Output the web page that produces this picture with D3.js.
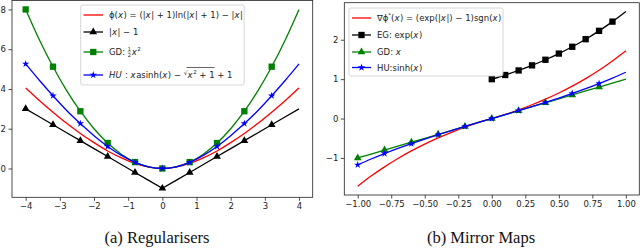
<!DOCTYPE html>
<html>
<head>
<meta charset="utf-8">
<script src="https://cdn.jsdelivr.net/npm/d3@7"></script>
<style>
  html, body { margin: 0; padding: 0; background: #fff; }
  svg { display: block; }
  .tick text { font-family: "DejaVu Sans", sans-serif; font-size: 8.5px; fill: #222; }
  .tick line { stroke: #222; stroke-width: 0.8; }
  .leg text { font-family: "DejaVu Sans", sans-serif; font-size: 8.5px; fill: #222; white-space: pre; }
  .cap { font-family: "Liberation Serif", "Times New Roman", serif; font-size: 16.5px; fill: #111; }
</style>
</head>
<body>
<svg width="640" height="249"></svg>
<script>
'use strict';
// ---- left panel data: regularisers, x from -4 to 4 by 0.4 ----
var xsL = [-4, -3.6, -3.2, -2.8, -2.4, -2, -1.6, -1.2, -0.8, -0.4, 0,
  0.4, 0.8, 1.2, 1.6, 2, 2.4, 2.8, 3.2, 3.6, 4];
var phiL = [4.05, 3.42, 2.83, 2.27, 1.76, 1.30, 0.88, 0.535, 0.258, 0.071, 0,
  0.071, 0.258, 0.535, 0.88, 1.30, 1.76, 2.27, 2.83, 3.42, 4.05];
var absL = [3, 2.6, 2.2, 1.8, 1.4, 1, 0.6, 0.2, -0.2, -0.6, -1,
  -0.6, -0.2, 0.2, 0.6, 1, 1.4, 1.8, 2.2, 2.6, 3];
var gdL = [8, 6.48, 5.12, 3.92, 2.88, 2, 1.28, 0.72, 0.32, 0.08, 0,
  0.08, 0.32, 0.72, 1.28, 2, 2.88, 3.92, 5.12, 6.48, 8];
var huL = [5.26, 4.44, 3.66, 2.92, 2.26, 1.65, 1.11, 0.66, 0.31, 0.08, 0,
  0.08, 0.31, 0.66, 1.11, 1.65, 2.26, 2.92, 3.66, 4.44, 5.26];
var markIdxL = [0, 2, 4, 6, 8, 10, 12, 14, 16, 18];
var xTicksL = [-4, -3, -2, -1, 0, 1, 2, 3, 4];
var yTicksL = [0, 2, 4, 6, 8];

// ---- right panel data: mirror maps, x from -1 to 1 by 0.1 ----
var xsR = [-1, -0.9, -0.8, -0.7, -0.6, -0.5, -0.4, -0.3, -0.2, -0.1, 0,
  0.1, 0.2, 0.3, 0.4, 0.5, 0.6, 0.7, 0.8, 0.9, 1];
var gradR = [-1.718, -1.46, -1.226, -1.014, -0.822, -0.649, -0.492, -0.35, -0.221, -0.105, 0,
  0.105, 0.221, 0.35, 0.492, 0.649, 0.822, 1.014, 1.226, 1.46, 1.718];
var xsEG = [0, 0.1, 0.2, 0.3, 0.4, 0.5, 0.6, 0.7, 0.8, 0.9, 1];
var egR = [1, 1.105, 1.221, 1.35, 1.492, 1.649, 1.822, 2.014, 2.226, 2.46, 2.718];
var gdR = [-1, -0.9, -0.8, -0.7, -0.6, -0.5, -0.4, -0.3, -0.2, -0.1, 0,
  0.1, 0.2, 0.3, 0.4, 0.5, 0.6, 0.7, 0.8, 0.9, 1];
var huR = [-1.175, -1.027, -0.888, -0.759, -0.637, -0.521, -0.411, -0.305, -0.201, -0.1, 0,
  0.1, 0.201, 0.305, 0.411, 0.521, 0.637, 0.759, 0.888, 1.027, 1.175];
var markIdxEG = [0, 1, 2, 3, 4, 5, 6, 7, 8, 9];
var markIdxR = [0, 2, 4, 6, 8, 10, 12, 14, 16, 18];
var xTicksR = [-1, -0.75, -0.5, -0.25, 0, 0.25, 0.5, 0.75, 1];
var yTicksR = [-1, 0, 1, 2];

var svg = d3.select('svg');
var minus = s => String(s).replace('-', '\u2212');

function panel(o) {
  var x = d3.scaleLinear().domain(o.xd).range(o.xr);
  var y = d3.scaleLinear().domain(o.yd).range(o.yr);
  var g = svg.append('g');

  g.append('g')
    .attr('transform', `translate(0,${o.yr[0]})`)
    .call(d3.axisBottom(x).tickValues(o.xt).tickSize(3.5).tickPadding(2.5).tickFormat(o.xf))
    .call(a => a.select('.domain').remove());
  g.append('g')
    .attr('transform', `translate(${o.xr[0]},0)`)
    .call(d3.axisLeft(y).tickValues(o.yt).tickSize(3.5).tickPadding(2.5).tickFormat(d => minus(d)))
    .call(a => a.select('.domain').remove());

  o.series.forEach(s => {
    var pts = s.xs.map((v, i) => [v, s.ys[i]]);
    var line = d3.line().x(d => x(d[0])).y(d => y(d[1]))
      .curve(s.linear ? d3.curveLinear : d3.curveMonotoneX);
    g.append('path')
      .attr('d', line(pts))
      .attr('fill', 'none')
      .attr('stroke', s.color)
      .attr('stroke-width', 1.3);
    if (s.marker) {
      g.selectAll(null).data(s.marks.map(i => pts[i])).enter().append('path')
        .attr('d', d3.symbol().type(s.marker).size(s.msize))
        .attr('transform', d => `translate(${x(d[0])},${y(d[1])})`)
        .attr('fill', s.color);
    }
  });

  g.append('rect')
    .attr('x', o.xr[0]).attr('y', o.yr[1])
    .attr('width', o.xr[1] - o.xr[0]).attr('height', o.yr[0] - o.yr[1])
    .attr('fill', 'none').attr('stroke', '#222').attr('stroke-width', 0.8);

  // legend
  var L = o.legend;
  var lg = g.append('g').attr('class', 'leg');
  lg.append('rect')
    .attr('x', L.box[0]).attr('y', L.box[1]).attr('width', L.box[2]).attr('height', L.box[3])
    .attr('rx', 2).attr('fill', '#fff').attr('fill-opacity', 0.85)
    .attr('stroke', '#ccc').attr('stroke-width', 0.8);
  o.series.forEach((s, k) => {
    var yy = L.rows[k];
    lg.append('line')
      .attr('x1', L.lx[0]).attr('x2', L.lx[1]).attr('y1', yy).attr('y2', yy)
      .attr('stroke', s.color).attr('stroke-width', 1.3);
    if (s.marker) {
      lg.append('path')
        .attr('d', d3.symbol().type(s.marker).size(s.msize))
        .attr('transform', `translate(${(L.lx[0] + L.lx[1]) / 2},${yy})`)
        .attr('fill', s.color);
    }
    mathText(lg, L.tx, yy + 3, s.label);
  });
}

// tiny math layout: tokens [kind, text]
function mathText(g, x0, base, tokens) {
  var cx = x0;
  tokens.forEach(t => {
    var kind = t[0];
    if (kind === 'frac') {
      var a = g.append('text').attr('x', cx).attr('y', base - 4).style('font-size', '5px').text(t[1]);
      var b = g.append('text').attr('x', cx).attr('y', base + 1.5).style('font-size', '5px').text(t[2]);
      var w = Math.max(a.node().getComputedTextLength(), b.node().getComputedTextLength());
      g.append('line').attr('x1', cx).attr('x2', cx + w).attr('y1', base - 3).attr('y2', base - 3)
        .attr('stroke', '#222').attr('stroke-width', 0.4);
      cx += w + 0.8;
      return;
    }
    if (kind === 'sqrt') {
      var r = g.append('text').attr('x', cx).attr('y', base - 3).style('font-size', '6px').text('\u221a');
      cx += r.node().getComputedTextLength();
      var start = cx;
      cx = mathText(g, cx, base, t[1]);
      g.append('line').attr('x1', start - 1).attr('x2', cx).attr('y1', base - 10.5).attr('y2', base - 10.5)
        .attr('stroke', '#222').attr('stroke-width', 0.7);
      return;
    }
    var el = g.append('text').attr('x', cx).attr('y', kind === 'sup' ? base - 4 : base).text(t[1]);
    if (kind === 'i') el.style('font-style', 'italic');
    if (kind === 'sup') el.style('font-size', '5.5px');
    cx += el.node().getComputedTextLength() + (kind === 'i' ? 0.6 : 0);
  });
  return cx;
}

panel({
  xd: [-4.4, 4.4], xr: [12, 312.7],
  yd: [-1.45, 8.45], yr: [197.3, 0.5],
  xt: xTicksL, yt: yTicksL, xf: d => minus(d),
  series: [
    { xs: xsL, ys: phiL, color: '#ff0000',
      label: [['r', '\u03d5('], ['i', 'x'], ['r', ') = (|'], ['i', 'x'], ['r', '| + 1)ln(|'], ['i', 'x'], ['r', '| + 1) \u2212 |'], ['i', 'x'], ['r', '|']] },
    { xs: xsL, ys: absL, color: '#000', linear: true, marker: d3.symbolTriangle, msize: 26, marks: markIdxL,
      label: [['r', '|'], ['i', 'x'], ['r', '| \u2212 1']] },
    { xs: xsL, ys: gdL, color: '#008000', marker: d3.symbolSquare, msize: 40, marks: markIdxL,
      label: [['r', 'GD: '], ['frac', '1', '2'], ['i', 'x'], ['sup', '2']] },
    { xs: xsL, ys: huL, color: '#0000ff', marker: d3.symbolStar, msize: 17, marks: markIdxL,
      label: [['i', 'HU'], ['r', ' : '], ['i', 'x'], ['r', 'asinh('], ['i', 'x'], ['r', ') \u2212 '],
        ['sqrt', [['i', 'x'], ['sup', '2'], ['r', ' + 1']]], ['r', ' + 1']] }
  ],
  legend: { box: [80.7, 5, 163.5, 80], rows: [15, 32, 52, 75], lx: [83.5, 103], tx: 109 }
});

panel({
  xd: [-1.1, 1.1], xr: [344.3, 639.3],
  yd: [-1.94, 2.94], yr: [195, 2.7],
  xt: xTicksR, yt: yTicksR, xf: d => minus(d3.format('.2f')(d)),
  series: [
    { xs: xsR, ys: gradR, color: '#ff0000',
      label: [['r', '\u2207\u03d5'], ['sup', '*'], ['r', '('], ['i', 'x'], ['r', ') = (exp(|'], ['i', 'x'], ['r', '|) \u2212 1)sgn('], ['i', 'x'], ['r', ')']] },
    { xs: xsEG, ys: egR, color: '#000', marker: d3.symbolSquare, msize: 40, marks: markIdxEG,
      label: [['r', 'EG: exp('], ['i', 'x'], ['r', ')']] },
    { xs: xsR, ys: gdR, color: '#008000', linear: true, marker: d3.symbolTriangle, msize: 26, marks: markIdxR,
      label: [['r', 'GD: '], ['i', 'x']] },
    { xs: xsR, ys: huR, color: '#0000ff', marker: d3.symbolStar, msize: 17, marks: markIdxR,
      label: [['r', 'HU:sinh('], ['i', 'x'], ['r', ')']] }
  ],
  legend: { box: [349, 8, 154, 68], rows: [18, 35, 52, 67.5], lx: [352, 371], tx: 377 }
});

svg.append('text').attr('class', 'cap').attr('x', 157).attr('y', 243)
  .attr('text-anchor', 'middle').text('(a) Regularisers');
svg.append('text').attr('class', 'cap').attr('x', 481).attr('y', 243)
  .attr('text-anchor', 'middle').text('(b) Mirror Maps');
</script>
</body>
</html>
